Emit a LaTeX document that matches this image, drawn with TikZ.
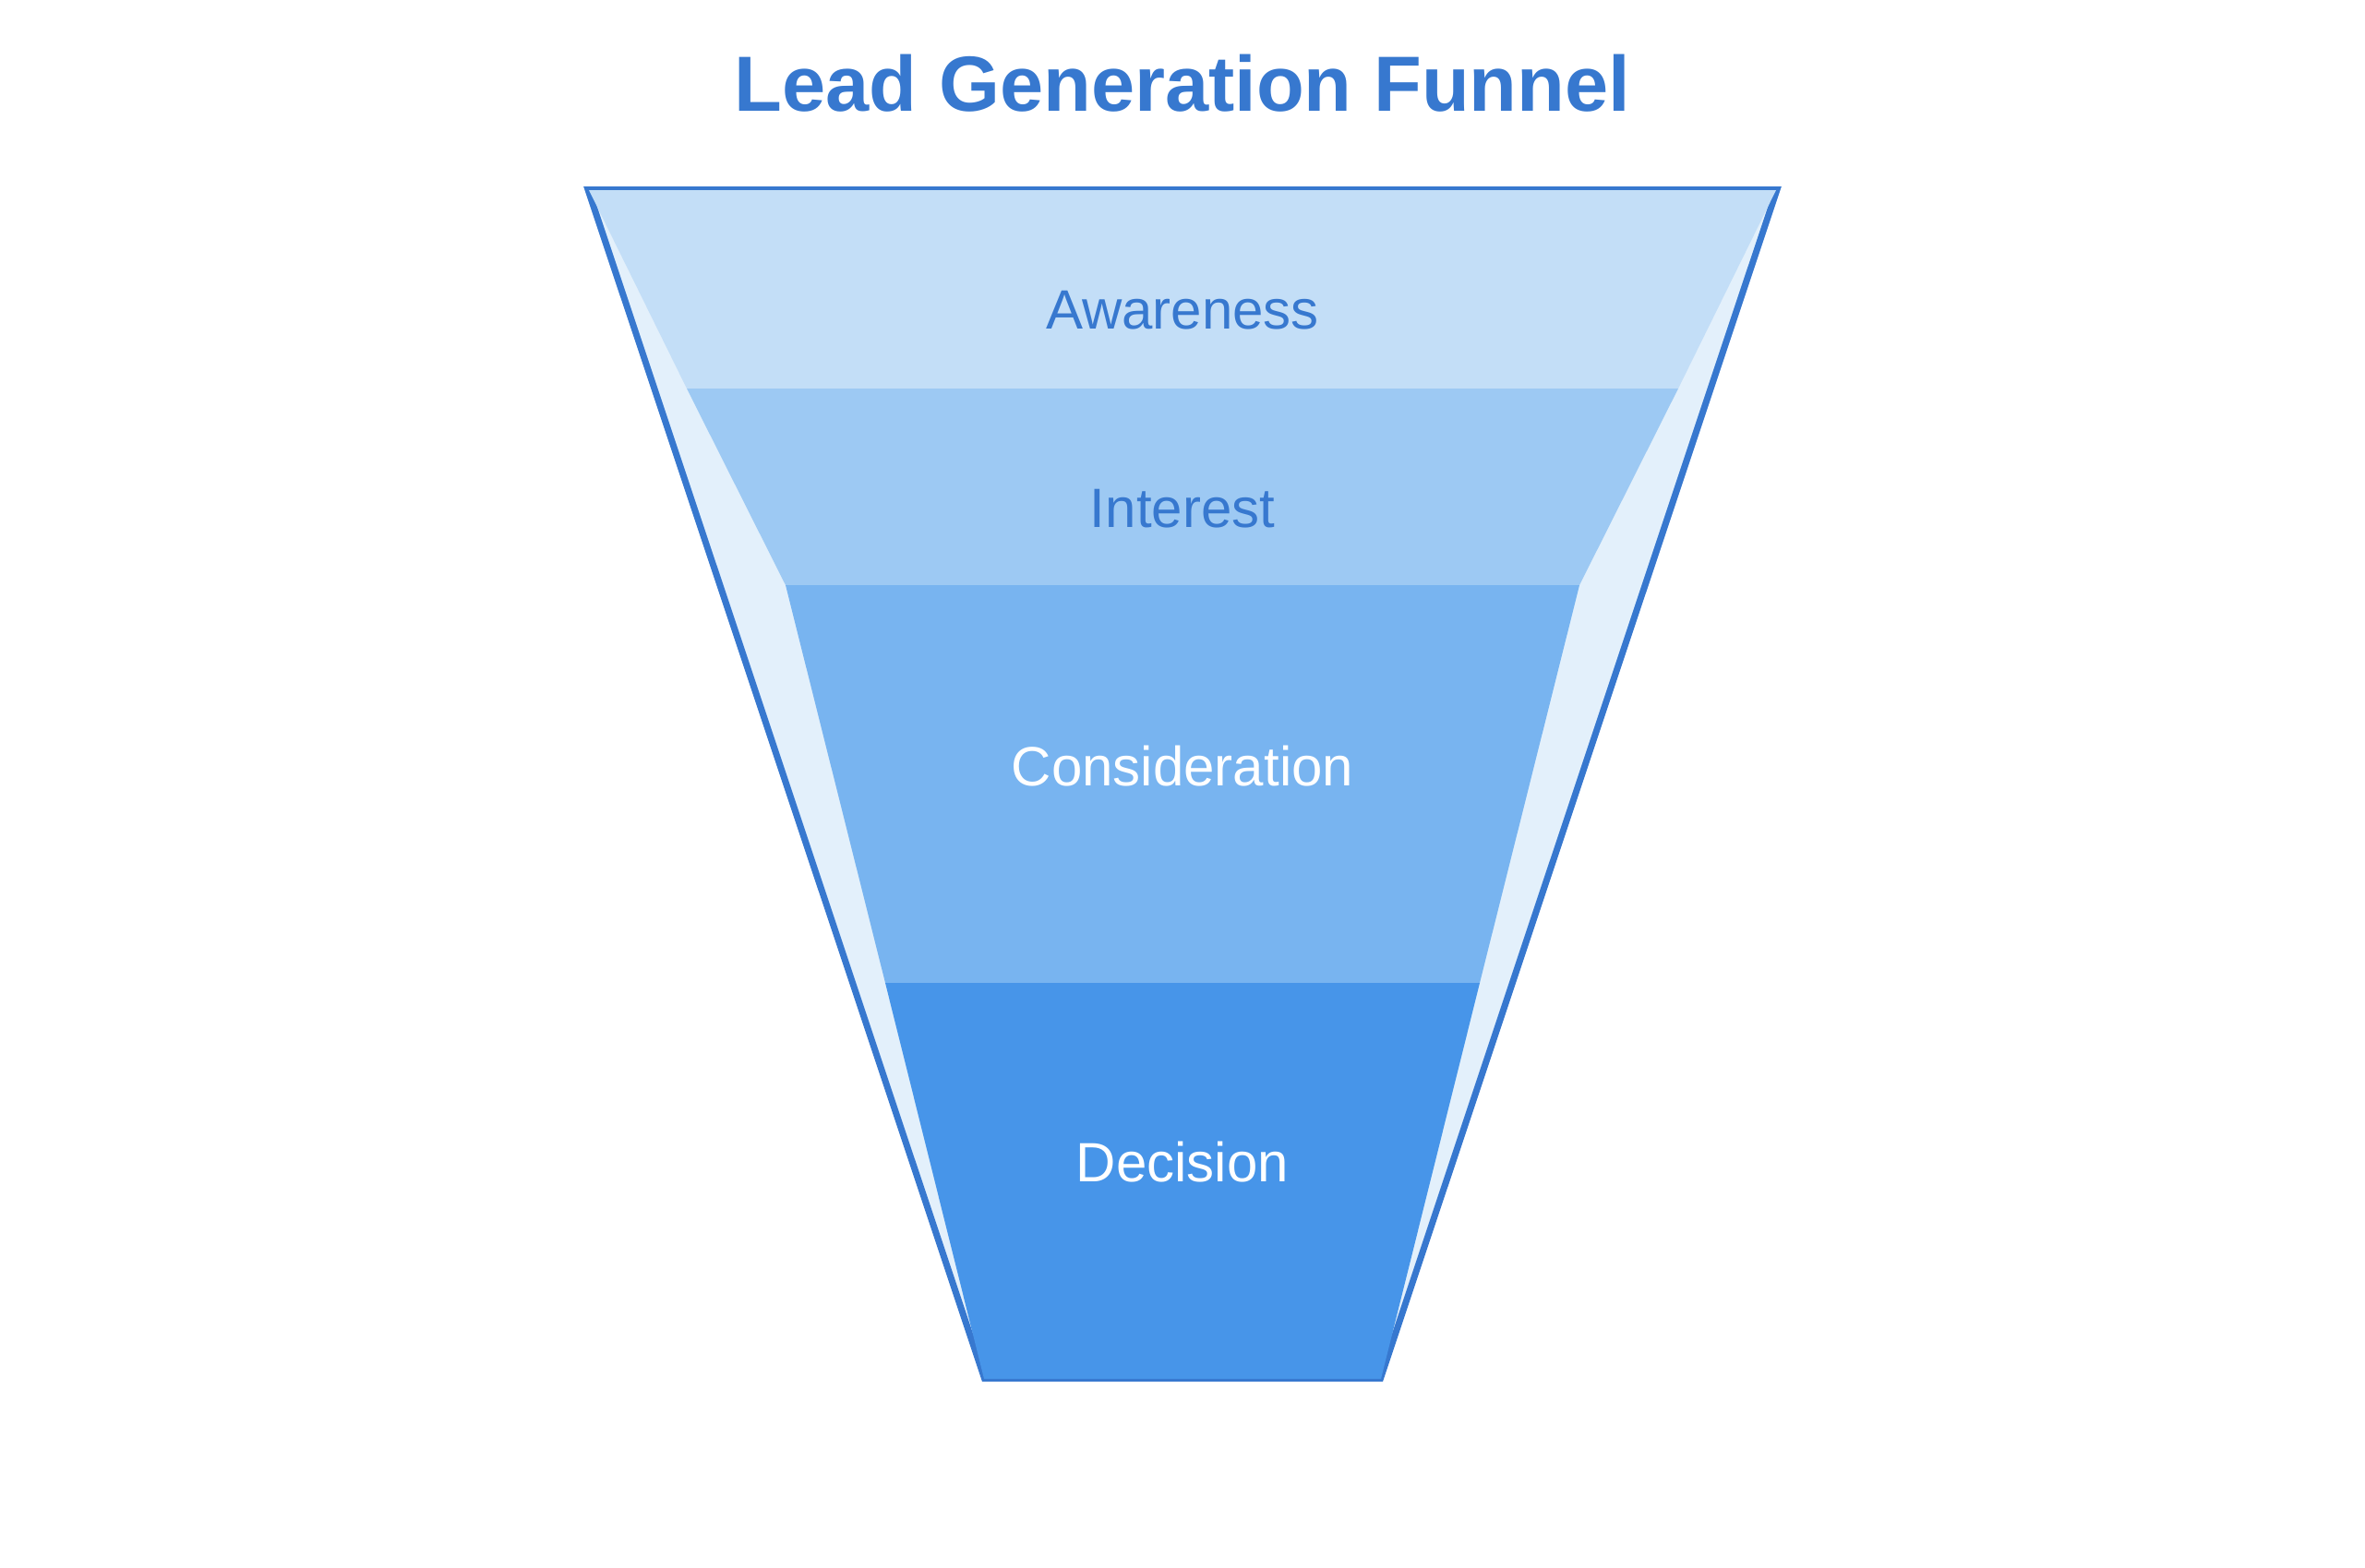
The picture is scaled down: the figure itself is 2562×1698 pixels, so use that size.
\documentclass[tikz,border=0pt]{standalone}
\usepackage{fontspec}
\setmainfont{Liberation Sans}
\definecolor{funblue}{HTML}{3778CF}
\definecolor{funback}{HTML}{E3F0FB}
\definecolor{stageA}{HTML}{C3DEF7}
\definecolor{stageB}{HTML}{9DC9F3}
\definecolor{stageC}{HTML}{78B4F0}
\definecolor{stageD}{HTML}{4795E9}
\begin{document}
\begin{tikzpicture}[x=0.5pt,y=-0.5pt,
		stagelabel/.style={anchor=base,font=\fontsize{30}{36}\selectfont}]
		\def\lw{3.5pt}
		\useasboundingbox (0,0) rectangle (2562,1698);
		\draw [funblue,fill=funback,line width=\lw] (637,205.5) -- (1925,205.5) -- (1495.5,1493.5) -- (1066.5,1493.5) -- cycle;
		\fill [stageA] (638,206) -- (1924,206) -- (1818,421) -- (744,421) -- cycle;
		\fill [stageB] (744,421) -- (1818,421) -- (1711,634) -- (851,634) -- cycle;
		\fill [stageC] (851,634) -- (1711,634) -- (1603,1065) -- (959,1065) -- cycle;
		\fill [stageD] (959,1065) -- (1603,1065) -- (1496,1494) -- (1066,1494) -- cycle;
		\node [anchor=base,text=funblue,font=\bfseries\fontsize{42.4}{50}\selectfont] (title) at (1281,120) {Lead Generation Funnel};
		\node [stagelabel,text=funblue] (awareness) at (1281,356) {Awareness};
		\node [stagelabel,text=funblue] (interest) at (1281,571) {Interest};
		\node [stagelabel,text=white] (consideration) at (1281,851) {Consideration};
		\node [stagelabel,text=white] (decision) at (1281,1280) {Decision};
	\end{tikzpicture}
\end{document}
